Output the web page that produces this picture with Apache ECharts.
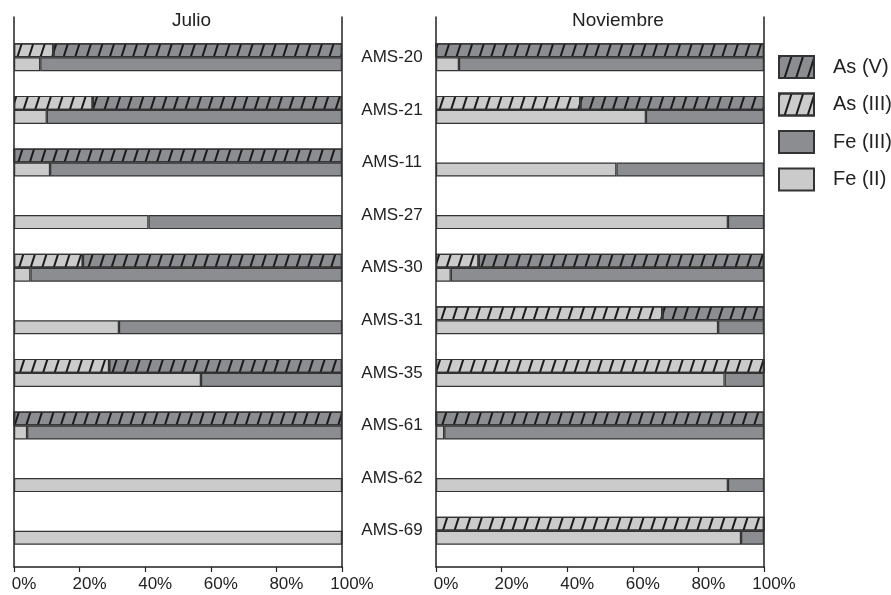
<!DOCTYPE html>
<html>
<head>
<meta charset="utf-8">
<script src="https://cdn.jsdelivr.net/npm/echarts@6/dist/echarts.min.js"></script>
<style>
html,body{margin:0;padding:0;background:#fff;}
#chart{width:891px;height:595px;}
</style>
</head>
<body>
<div id="chart"></div>
<script>
// ---- data (percent) ----
var categories = ['AMS-20','AMS-21','AMS-11','AMS-27','AMS-30','AMS-31','AMS-35','AMS-61','AMS-62','AMS-69'];
var panelTitles = ['Julio', 'Noviembre'];
var tickValues = [0, 20, 40, 60, 80, 100];

// Julio
var asIII_jul = [12, 24, 0, null, 21, null, 29, 0, null, null];
var asV_jul   = [88, 76, 100, null, 79, null, 71, 100, null, null];
var feII_jul  = [8, 10, 11, 41, 5, 32, 57, 4, 100, 100];
var feIII_jul = [92, 90, 89, 59, 95, 68, 43, 96, 0, 0];

// Noviembre
var asIII_nov = [0, 44, null, null, 13, 69, 100, 0, null, 100];
var asV_nov   = [100, 56, null, null, 87, 31, 0, 100, null, 0];
var feII_nov  = [7, 64, 55, 89, 4.5, 86, 88, 2.5, 89, 93];
var feIII_nov = [93, 36, 45, 11, 95.5, 14, 12, 97.5, 11, 7];

// ---- styles ----
var FONT = "'Liberation Sans', Arial, sans-serif";
var DARK = '#8b8d90';
var LIGHT = '#cbcbcb';
var BORDER = '#333333';
var hatch = {symbol: 'rect', symbolSize: 1, dashArrayX: [1, 0], dashArrayY: [2, 8.5], rotation: -1.26, color: '#1a1a1a'};

var chart = echarts.init(document.getElementById('chart'), null, {renderer: 'canvas'});

var panelLeft = [14, 436];
var panelWidth = 328;

function frameX(i) {
  return {
    gridIndex: i, type: 'value', min: 0, max: 100, interval: 20,
    axisLine: {show: true, lineStyle: {color: '#222', width: 1.5}},
    axisTick: {show: true, length: 5, lineStyle: {color: '#222', width: 1.2}},
    axisLabel: {formatter: '{value}%', fontSize: 17, color: '#222', fontFamily: FONT, margin: 9, padding: [0, 0, 0, 20]},
    splitLine: {show: false}
  };
}
function frameY(i, pos) {
  return {
    gridIndex: i, type: 'value', position: pos, min: 0, max: 1,
    axisLine: {show: true, onZero: false, lineStyle: {color: '#222', width: 1.5}},
    axisTick: {show: false}, axisLabel: {show: false}, splitLine: {show: false}
  };
}
function dataX(i) {
  return {gridIndex: i, type: 'value', min: 0, max: 100, show: false, splitLine: {show: false}};
}
function dataY(i, showLabels) {
  return {
    gridIndex: i, type: 'category', data: categories, inverse: true,
    axisLine: {show: false}, axisTick: {show: false}, splitLine: {show: false},
    axisLabel: {show: showLabels, fontSize: 17, color: '#222', fontFamily: FONT, margin: 44, align: 'center'}
  };
}
function barSeries(name, xi, yi, stack, data, color, withHatch) {
  var s = {
    name: name, type: 'bar', xAxisIndex: xi, yAxisIndex: yi, stack: stack,
    data: data, barWidth: 14, barGap: '0%',
    itemStyle: {color: color, borderColor: BORDER, borderWidth: 1.2},
    emphasis: {disabled: true}, animation: false
  };
  if (withHatch) s.itemStyle.decal = hatch;
  return s;
}

var option = {
  animation: false,
  textStyle: {fontFamily: FONT},
  title: [
    {text: panelTitles[0], left: 172, top: 11, padding: 0, textStyle: {fontSize: 19, fontWeight: 'normal', color: '#222', fontFamily: FONT}},
    {text: panelTitles[1], left: 572, top: 11, padding: 0, textStyle: {fontSize: 19, fontWeight: 'normal', color: '#222', fontFamily: FONT}}
  ],
  legend: {
    data: ['As (V)', 'As (III)', 'Fe (III)', 'Fe (II)'],
    orient: 'vertical', left: 778, top: 55, padding: 0,
    itemWidth: 35, itemHeight: 22, itemGap: 13.5, icon: 'rect',
    selectedMode: false,
    textStyle: {fontSize: 20, color: '#222', fontFamily: FONT, padding: [0, 0, 0, 14]}
  },
  grid: [
    {left: panelLeft[0], width: panelWidth, top: 17, height: 550},
    {left: panelLeft[1], width: panelWidth, top: 17, height: 550},
    {left: panelLeft[0], width: panelWidth, top: 31, height: 526},
    {left: panelLeft[1], width: panelWidth, top: 31, height: 526}
  ],
  xAxis: [frameX(0), frameX(1), dataX(2), dataX(3)],
  yAxis: [frameY(0, 'left'), frameY(0, 'right'), frameY(1, 'left'), frameY(1, 'right'), dataY(2, false), dataY(3, true)],
  series: [
    barSeries('As (III)', 2, 4, 'asJ', asIII_jul, LIGHT, true),
    barSeries('As (V)', 2, 4, 'asJ', asV_jul, DARK, true),
    barSeries('Fe (II)', 2, 4, 'feJ', feII_jul, LIGHT, false),
    barSeries('Fe (III)', 2, 4, 'feJ', feIII_jul, DARK, false),
    barSeries('As (III)', 3, 5, 'asN', asIII_nov, LIGHT, true),
    barSeries('As (V)', 3, 5, 'asN', asV_nov, DARK, true),
    barSeries('Fe (II)', 3, 5, 'feN', feII_nov, LIGHT, false),
    barSeries('Fe (III)', 3, 5, 'feN', feIII_nov, DARK, false)
  ]
};
chart.setOption(option);
</script>
</body>
</html>
